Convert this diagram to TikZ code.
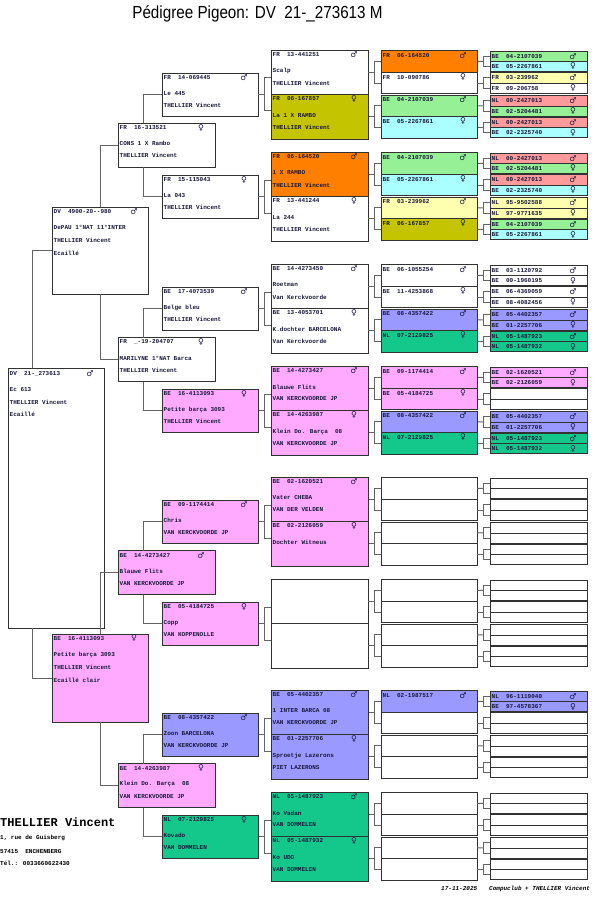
\documentclass[tikz,border=0pt]{standalone}
\usepackage{fontspec}
\usetikzlibrary{calc}
\newfontfamily\monof{Liberation Mono}
\newfontfamily\symf{DejaVu Sans}
\newfontfamily\titlef{Liberation Sans}
\definecolor{bline}{RGB}{50,50,50}
\definecolor{cline}{RGB}{100,100,100}
\definecolor{tcol}{RGB}{25,25,60}
\definecolor{cOrange}{RGB}{255,128,0}
\definecolor{cOlive}{RGB}{196,196,0}
\definecolor{cGreen}{RGB}{150,240,150}
\definecolor{cCyan}{RGB}{170,255,255}
\definecolor{cYellow}{RGB}{255,255,176}
\definecolor{cRed}{RGB}{255,155,155}
\definecolor{cBlue}{RGB}{153,153,255}
\definecolor{cTeal}{RGB}{20,200,140}
\definecolor{cPink}{RGB}{255,170,255}
\newcommand\SexM{{\symf ♂}}
\newcommand\SexF{{\symf ♀}}
\tikzset{
 pbox/.style={draw=bline,line width=0.9pt,fill=white,rectangle,inner sep=0pt,outer sep=0pt,anchor=north west},
 conn/.style={draw=cline,line width=1pt},
 txt/.style={font=\monof\bfseries\fontsize{6}{7}\selectfont,text=tcol,inner sep=0pt,anchor=west},
 sx/.style={font=\symf\fontsize{8}{9}\selectfont,text=tcol,inner sep=0pt},
}
% bracket to child mids
\newcommand\BRK[3]{%
  \coordinate (bm) at ($(#1.east)!.5!(#1.east -| #2.west)$);
  \draw[conn] (#1.east) -- (bm);
  \draw[conn] (#2.west) -- (bm |- #2.west) -- (bm |- #3.west) -- (#3.west);}
% bracket with fixed half span
\newcommand\BRG[3]{%
  \coordinate (bm) at ($(#1.east)!.5!(#1.east -| #2.west)$);
  \coordinate (bta) at ($(bm)+(0,-16.5)$);
  \coordinate (btb) at ($(bm)+(0,16.5)$);
  \draw[conn] (#1.east) -- (bm);
  \draw[conn] (#2.west |- bta) -- (bta) -- (btb) -- (#3.west |- btb);}
\newcommand\PCB[2]{\path[draw=bline,line width=0.9pt,fill=#2] (#1.north west) rectangle (#1.south east);}
\newcommand\PID[5]{%
  \node[txt] at ([xshift=1.5pt,yshift=-#5pt]#1.north west) {#2~~#3};
  \node[sx] at ([xshift=-14pt,yshift=-#5pt]#1.north east) {#4};}
\newcommand\PTL[3]{\node[txt] at ([xshift=1.5pt,yshift=-#2pt]#1.north west) {#3};}
\begin{document}
\begin{tikzpicture}[x=1pt,y=-1pt]
\fill[white] (0,0) rectangle (597,923);
\useasboundingbox (0,0) rectangle (597,923);

\node[font=\titlef\fontsize{17.5}{20}\selectfont] (title) at (257.5,14) {\scalebox{0.87}[1]{Pédigree Pigeon: DV\ \ 21-\_273613 M}};

% generations 0-2
\node[pbox,minimum width=96pt,minimum height=260pt] (g0) at (8,368) {};
\node[pbox,minimum width=96pt,minimum height=87pt] (g1s) at (52,207) {};
\node[pbox,fill=cPink,minimum width=96pt,minimum height=88pt] (g1d) at (52,634) {};
\node[pbox,minimum width=97pt,minimum height=44pt] (g2-1) at (118,123) {};
\node[pbox,minimum width=97pt,minimum height=44pt] (g2-2) at (118,337.5) {};
\node[pbox,fill=cPink,minimum width=97pt,minimum height=44pt] (g2-3) at (118,550.5) {};
\node[pbox,fill=cPink,minimum width=97pt,minimum height=44pt] (g2-4) at (118,763.5) {};

% generations 3-6
\foreach \p [count=\n] in {50,152,264,366,477,579,690,792} {
  \pgfmathsetmacro\tg{\p+23}
  \node[pbox,minimum width=96pt,minimum height=43pt] (g3-\n) at (162,\tg) {};
  \foreach \a in {0,1} {
    \pgfmathtruncatemacro\ia{2*\n-1+\a}
    \pgfmathsetmacro\ty{\p+44.5*\a}
    \node[pbox,minimum width=97pt,minimum height=44.5pt] (g4-\ia) at (271,\ty) {};
    \foreach \b in {0,1} {
      \pgfmathtruncatemacro\jb{2*\ia-1+\b}
      \pgfmathsetmacro\tz{\ty+0.7+21.55*\b}
      \node[pbox,minimum width=96pt,minimum height=21.55pt] (g5-\jb) at (381,\tz) {};
      \foreach \c in {0,1} {
        \pgfmathtruncatemacro\kc{2*\jb-1+\c}
        \pgfmathsetmacro\tw{\tz+0.5+10.275*\c}
        \node[pbox,minimum width=97pt,minimum height=10.275pt] (g6-\kc) at (490,\tw) {};
      }
      \pgfmathtruncatemacro\ka{2*\jb-1}
      \pgfmathtruncatemacro\kb{2*\jb}
      \BRK{g5-\jb}{g6-\ka}{g6-\kb}
    }
    \pgfmathtruncatemacro\ja{2*\ia-1}
    \pgfmathtruncatemacro\jc{2*\ia}
    \BRK{g4-\ia}{g5-\ja}{g5-\jc}
  }
  \pgfmathtruncatemacro\ib{2*\n-1}
  \pgfmathtruncatemacro\ic{2*\n}
  \BRG{g3-\n}{g4-\ib}{g4-\ic}
}

% elbow connectors
\draw[conn] ([xshift=24pt]g0.north west) |- (g1s.west);
\draw[conn] ([xshift=24pt]g0.south west) |- (g1d.west);
\draw[conn] ([xshift=48pt]g1s.north west) |- (g2-1.west);
\draw[conn] ([xshift=48pt]g1s.south west) |- (g2-2.west);
\draw[conn] ([xshift=48pt]g1d.north west) |- (g2-3.west);
\draw[conn] ([xshift=48pt]g1d.south west) |- (g2-4.west);
\draw[conn] ([xshift=25pt]g2-1.north west) |- (g3-1.west);
\draw[conn] ([xshift=25pt]g2-1.south west) |- (g3-2.west);
\draw[conn] ([xshift=25pt]g2-2.north west) |- (g3-3.west);
\draw[conn] ([xshift=25pt]g2-2.south west) |- (g3-4.west);
\draw[conn] ([xshift=25pt]g2-3.north west) |- (g3-5.west);
\draw[conn] ([xshift=25pt]g2-3.south west) |- (g3-6.west);
\draw[conn] ([xshift=25pt]g2-4.north west) |- (g3-7.west);
\draw[conn] ([xshift=25pt]g2-4.south west) |- (g3-8.west);

% colours
\PCB{g3-4}{cPink}\PCB{g3-5}{cPink}\PCB{g3-6}{cPink}\PCB{g3-7}{cBlue}\PCB{g3-8}{cTeal}
\PCB{g4-2}{cOlive}\PCB{g4-3}{cOrange}\PCB{g4-7}{cPink}\PCB{g4-8}{cPink}
\PCB{g4-9}{cPink}\PCB{g4-10}{cPink}\PCB{g4-13}{cBlue}\PCB{g4-14}{cBlue}
\PCB{g4-15}{cTeal}\PCB{g4-16}{cTeal}
\PCB{g5-1}{cOrange}\PCB{g5-3}{cGreen}\PCB{g5-4}{cCyan}\PCB{g5-5}{cGreen}\PCB{g5-6}{cCyan}
\PCB{g5-7}{cYellow}\PCB{g5-8}{cOlive}\PCB{g5-11}{cBlue}\PCB{g5-12}{cTeal}
\PCB{g5-13}{cPink}\PCB{g5-14}{cPink}\PCB{g5-15}{cBlue}\PCB{g5-16}{cTeal}\PCB{g5-25}{cBlue}
\PCB{g6-1}{cGreen}\PCB{g6-2}{cCyan}\PCB{g6-3}{cYellow}
\PCB{g6-5}{cRed}\PCB{g6-6}{cGreen}\PCB{g6-7}{cRed}\PCB{g6-8}{cCyan}
\PCB{g6-9}{cRed}\PCB{g6-10}{cGreen}\PCB{g6-11}{cRed}\PCB{g6-12}{cCyan}
\PCB{g6-13}{cYellow}\PCB{g6-14}{cYellow}\PCB{g6-15}{cGreen}\PCB{g6-16}{cCyan}
\PCB{g6-21}{cBlue}\PCB{g6-22}{cBlue}\PCB{g6-23}{cTeal}\PCB{g6-24}{cTeal}
\PCB{g6-25}{cPink}\PCB{g6-26}{cPink}
\PCB{g6-29}{cBlue}\PCB{g6-30}{cBlue}\PCB{g6-31}{cTeal}\PCB{g6-32}{cTeal}
\PCB{g6-49}{cBlue}\PCB{g6-50}{cBlue}

% texts gen 0-2
\PID{g0}{DV}{21-\_273613}{\SexM}{6}
\PTL{g0}{22}{Ec 613}\PTL{g0}{34}{THELLIER Vincent}\PTL{g0}{46}{Ecaillé}
\PID{g1s}{DV}{4900-20-{}-980}{\SexM}{4.5}
\PTL{g1s}{20.5}{DePAU 1°NAT 11°INTER}\PTL{g1s}{33}{THELLIER Vincent}\PTL{g1s}{46}{Ecaillé}
\PID{g1d}{BE}{16-4113093}{\SexF}{4.5}
\PTL{g1d}{20.5}{Petite barça 3093}\PTL{g1d}{33}{THELLIER Vincent}\PTL{g1d}{46}{Ecaillé clair}
\PID{g2-1}{FR}{16-313521}{\SexF}{4.8}\PTL{g2-1}{20.8}{CONS 1 X Rambo}\PTL{g2-1}{32.8}{THELLIER Vincent}
\PID{g2-2}{FR}{\_-19-204707}{\SexF}{4.8}\PTL{g2-2}{20.8}{MARILYNE 1°NAT Barca}\PTL{g2-2}{32.8}{THELLIER Vincent}
\PID{g2-3}{BE}{14-4273427}{\SexM}{4.8}\PTL{g2-3}{20.8}{Blauwe Flits}\PTL{g2-3}{32.8}{VAN KERCKVOORDE JP}
\PID{g2-4}{BE}{14-4263987}{\SexF}{4.8}\PTL{g2-4}{20.8}{Klein Do. Barça~~08}\PTL{g2-4}{32.8}{VAN KERCKVOORDE JP}

% gen 3
\PID{g3-1}{FR}{14-069445}{\SexM}{4.8}\PTL{g3-1}{20.8}{Le 445}\PTL{g3-1}{32.5}{THELLIER Vincent}
\PID{g3-2}{FR}{15-115043}{\SexF}{4.8}\PTL{g3-2}{20.8}{La 043}\PTL{g3-2}{32.5}{THELLIER Vincent}
\PID{g3-3}{BE}{17-4073539}{\SexM}{4.8}\PTL{g3-3}{20.8}{Belge bleu}\PTL{g3-3}{32.5}{THELLIER Vincent}
\PID{g3-4}{BE}{16-4113093}{\SexF}{4.8}\PTL{g3-4}{20.8}{Petite barça 3093}\PTL{g3-4}{32.5}{THELLIER Vincent}
\PID{g3-5}{BE}{09-1174414}{\SexM}{4.8}\PTL{g3-5}{20.8}{Chris}\PTL{g3-5}{32.5}{VAN KERCKVOORDE JP}
\PID{g3-6}{BE}{05-4184725}{\SexF}{4.8}\PTL{g3-6}{20.8}{Copp}\PTL{g3-6}{32.5}{VAN KOPPENOLLE}
\PID{g3-7}{BE}{08-4357422}{\SexM}{4.8}\PTL{g3-7}{20.8}{Zoon BARCELONA}\PTL{g3-7}{32.5}{VAN KERCKVOORDE JP}
\PID{g3-8}{NL}{07-2129825}{\SexF}{4.8}\PTL{g3-8}{20.8}{Kovado}\PTL{g3-8}{32.5}{VAN DOMMELEN}

% gen 4
\PID{g4-1}{FR}{13-441251}{\SexM}{4.5}\PTL{g4-1}{21}{Scalp}\PTL{g4-1}{33}{THELLIER Vincent}
\PID{g4-2}{FR}{06-167857}{\SexF}{4.5}\PTL{g4-2}{21}{La 1 X RAMBO}\PTL{g4-2}{33}{THELLIER Vincent}
\PID{g4-3}{FR}{06-164520}{\SexM}{4.5}\PTL{g4-3}{21}{1 X RAMBO}\PTL{g4-3}{33}{THELLIER Vincent}
\PID{g4-4}{FR}{13-441244}{\SexF}{4.5}\PTL{g4-4}{21}{La 244}\PTL{g4-4}{33}{THELLIER Vincent}
\PID{g4-5}{BE}{14-4273450}{\SexM}{4.5}\PTL{g4-5}{21}{Roetman}\PTL{g4-5}{33}{Van Kerckvoorde}
\PID{g4-6}{BE}{13-4053701}{\SexF}{4.5}\PTL{g4-6}{21}{K.dochter BARCELONA}\PTL{g4-6}{33}{Van Kerckvoorde}
\PID{g4-7}{BE}{14-4273427}{\SexM}{4.5}\PTL{g4-7}{21}{Blauwe Flits}\PTL{g4-7}{33}{VAN KERCKVOORDE JP}
\PID{g4-8}{BE}{14-4263987}{\SexF}{4.5}\PTL{g4-8}{21}{Klein Do. Barça~~08}\PTL{g4-8}{33}{VAN KERCKVOORDE JP}
\PID{g4-9}{BE}{02-1620521}{\SexM}{4.5}\PTL{g4-9}{21}{Vater CHEBA}\PTL{g4-9}{33}{VAN DER VELDEN}
\PID{g4-10}{BE}{02-2126059}{\SexF}{4.5}\PTL{g4-10}{21}{Dochter Witneus}
\PID{g4-13}{BE}{05-4402357}{\SexM}{4.5}\PTL{g4-13}{21}{1 INTER BARCA 08}\PTL{g4-13}{33}{VAN KERCKVOORDE JP}
\PID{g4-14}{BE}{01-2257706}{\SexF}{4.5}\PTL{g4-14}{21}{Sproetje Lazerons}\PTL{g4-14}{33}{PIET LAZERONS}
\PID{g4-15}{NL}{05-1487923}{\SexM}{4.5}\PTL{g4-15}{21}{Ko Vadan}\PTL{g4-15}{33}{VAN DOMMELEN}
\PID{g4-16}{NL}{05-1487932}{\SexF}{4.5}\PTL{g4-16}{21}{Ko UDO}\PTL{g4-16}{33}{VAN DOMMELEN}

% gen 5
\PID{g5-1}{FR}{06-164520}{\SexM}{4.8}\PID{g5-2}{FR}{10-090786}{\SexF}{4.8}
\PID{g5-3}{BE}{04-2107039}{\SexM}{4.8}\PID{g5-4}{BE}{05-2267861}{\SexF}{4.8}
\PID{g5-5}{BE}{04-2107039}{\SexM}{4.8}\PID{g5-6}{BE}{05-2267861}{\SexF}{4.8}
\PID{g5-7}{FR}{03-239962}{\SexM}{4.8}\PID{g5-8}{FR}{06-167857}{\SexF}{4.8}
\PID{g5-9}{BE}{06-1055254}{\SexM}{4.8}\PID{g5-10}{BE}{11-4253868}{\SexF}{4.8}
\PID{g5-11}{BE}{08-4357422}{\SexM}{4.8}\PID{g5-12}{NL}{07-2129825}{\SexF}{4.8}
\PID{g5-13}{BE}{09-1174414}{\SexM}{4.8}\PID{g5-14}{BE}{05-4184725}{\SexF}{4.8}
\PID{g5-15}{BE}{08-4357422}{\SexM}{4.8}\PID{g5-16}{NL}{07-2129825}{\SexF}{4.8}
\PID{g5-25}{NL}{02-1987517}{\SexM}{4.8}

% gen 6
\PID{g6-1}{BE}{04-2107039}{\SexM}{5.1}\PID{g6-2}{BE}{05-2267861}{\SexF}{5.1}
\PID{g6-3}{FR}{03-239962}{\SexM}{5.1}\PID{g6-4}{FR}{09-206758}{\SexF}{5.1}
\PID{g6-5}{NL}{00-2427013}{\SexM}{5.1}\PID{g6-6}{BE}{02-5204481}{\SexF}{5.1}
\PID{g6-7}{NL}{00-2427013}{\SexM}{5.1}\PID{g6-8}{BE}{02-2325740}{\SexF}{5.1}
\PID{g6-9}{NL}{00-2427013}{\SexM}{5.1}\PID{g6-10}{BE}{02-5204481}{\SexF}{5.1}
\PID{g6-11}{NL}{00-2427013}{\SexM}{5.1}\PID{g6-12}{BE}{02-2325740}{\SexF}{5.1}
\PID{g6-13}{NL}{95-9502588}{\SexM}{5.1}\PID{g6-14}{NL}{97-9771635}{\SexF}{5.1}
\PID{g6-15}{BE}{04-2107039}{\SexM}{5.1}\PID{g6-16}{BE}{05-2267861}{\SexF}{5.1}
\PID{g6-17}{BE}{03-1120792}{\SexM}{5.1}\PID{g6-18}{BE}{00-1960195}{\SexF}{5.1}
\PID{g6-19}{BE}{06-4369059}{\SexM}{5.1}\PID{g6-20}{BE}{08-4082456}{\SexF}{5.1}
\PID{g6-21}{BE}{05-4402357}{\SexM}{5.1}\PID{g6-22}{BE}{01-2257706}{\SexF}{5.1}
\PID{g6-23}{NL}{05-1487923}{\SexM}{5.1}\PID{g6-24}{NL}{05-1487932}{\SexF}{5.1}
\PID{g6-25}{BE}{02-1620521}{\SexM}{5.1}\PID{g6-26}{BE}{02-2126059}{\SexF}{5.1}
\PID{g6-29}{BE}{05-4402357}{\SexM}{5.1}\PID{g6-30}{BE}{01-2257706}{\SexF}{5.1}
\PID{g6-31}{NL}{05-1487923}{\SexM}{5.1}\PID{g6-32}{NL}{05-1487932}{\SexF}{5.1}
\PID{g6-49}{NL}{96-1119040}{\SexM}{5.1}\PID{g6-50}{BE}{97-4578367}{\SexF}{5.1}

% owner block
\node[anchor=west,inner sep=0pt,text=black,font=\monof\bfseries\fontsize{12}{14}\selectfont] (owner) at (0,822) {THELLIER Vincent};
\node[txt,text=black] (addr1) at (0,838) {1, rue de Guisberg};
\node[txt,text=black] (addr2) at (0,852) {57415~~ENCHENBERG};
\node[txt,text=black] (addr3) at (0,863) {Tél.: 0033660622430};

% footer
\node[txt,font=\monof\bfseries\itshape\fontsize{6}{7}\selectfont,text=black] (date) at (441,889) {17-11-2025};
\node[txt,font=\monof\bfseries\itshape\fontsize{6}{7}\selectfont,text=black] (club) at (489,889) {Compuclub + THELLIER Vincent};
\end{tikzpicture}
\end{document}
